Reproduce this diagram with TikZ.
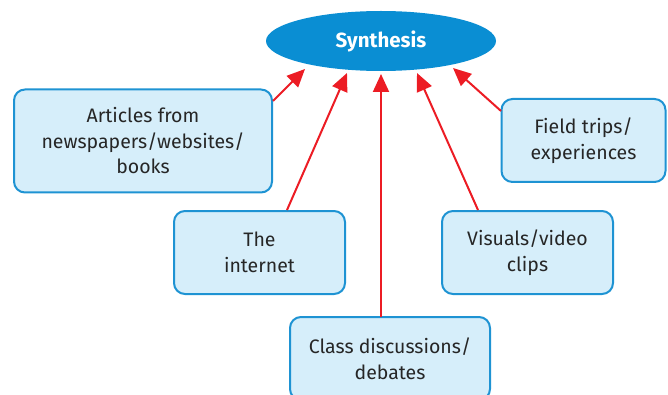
\documentclass[tikz,border=0pt]{standalone}
\usepackage{fontspec}
\setmainfont{Fira Sans}
\usetikzlibrary{arrows.meta,shapes.geometric}
\definecolor{hubblue}{HTML}{0A8ED3}
\definecolor{boxfill}{HTML}{D6EEFA}
\definecolor{boxline}{HTML}{1E93D3}
\definecolor{linkred}{HTML}{EC1C24}
\tikzset{
  hub/.style={ellipse, fill=hubblue, draw=none, minimum width=230pt, minimum height=60pt,
    text=white, font=\fontsize{20.5}{24}\selectfont\bfseries},
  srcbox/.style={draw=boxline, line width=2pt, fill=boxfill, rounded corners=11pt,
    align=center, text=black!85, font=\fontsize{19.5}{25.5}\selectfont, inner sep=0pt},
  link/.style={draw=linkred, line width=2pt, -{Triangle[length=18pt,width=16pt]}}
}
\begin{document}
\begin{tikzpicture}[x=1pt,y=-1pt]
  \useasboundingbox (0,0) rectangle (668,395);
  \begin{scope}
    \clip (0,0) rectangle (668,395);
    \node[hub] (syn) at (381,41) {Synthesis};
    \node[srcbox, minimum width=258pt, minimum height=103pt] (art) at (143,141)
      {Articles from\\newspapers/websites/\\books};
    \node[srcbox, minimum width=171pt, minimum height=83pt] (net) at (259.5,252.5)
      {The\\internet};
    \node[srcbox, minimum width=171pt, minimum height=83pt] (vis) at (527.5,252.5)
      {Visuals/video\\clips};
    \node[srcbox, minimum width=164pt, minimum height=83pt] (trip) at (583.5,140.5)
      {Field trips/\\experiences};
    \node[srcbox, minimum width=200pt, minimum height=83pt] (cls) at (390,358.5)
      {Class discussions/\\debates};
    % anchor points where the connectors leave the boxes and meet the hub
    \coordinate (artOut)  at (273,101);
    \coordinate (netOut)  at (287,210);
    \coordinate (clsOut)  at (381,317);
    \coordinate (visOut)  at (478,210);
    \coordinate (tripOut) at (501,111);
    \coordinate (synA) at (305,69);
    \coordinate (synB) at (347,73);
    \coordinate (synC) at (381,74);
    \coordinate (synD) at (417,73);
    \coordinate (synE) at (453,68);
    % connectors into the hub
    \draw[link] (artOut)  -- (synA);
    \draw[link] (netOut)  -- (synB);
    \draw[link] (clsOut)  -- (synC);
    \draw[link] (visOut)  -- (synD);
    \draw[link] (tripOut) -- (synE);
  \end{scope}
\end{tikzpicture}
\end{document}
